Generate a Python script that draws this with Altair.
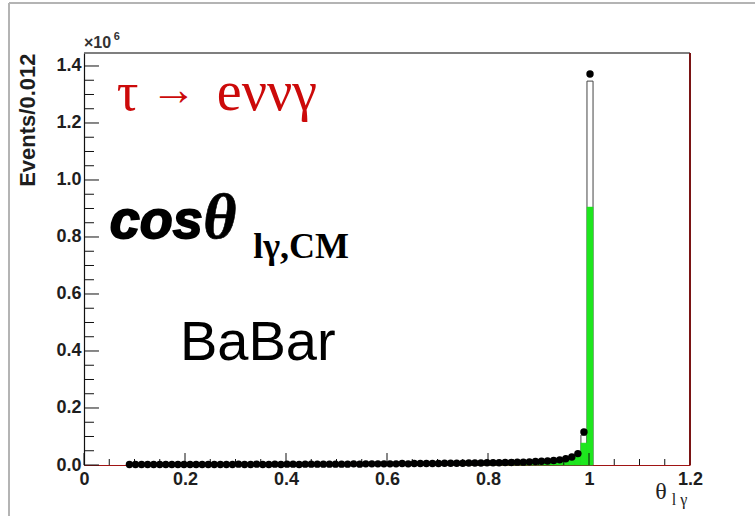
import altair as alt
import pandas as pd

# ---------------- data (values in units of 10^6 events per 0.012 bin) ----------------
BIN_W = 0.012
FIRST_BIN = 7  # first filled bin starts at 7*0.012 = 0.084

data_vals = [
    0.002, 0.002, 0.002, 0.002, 0.002, 0.002, 0.002, 0.002, 0.002, 0.002,
    0.002, 0.002, 0.002, 0.002, 0.002, 0.002, 0.002, 0.002, 0.003, 0.002,
    0.002, 0.003, 0.002, 0.002, 0.003, 0.002, 0.003, 0.003, 0.002, 0.003,
    0.003, 0.003, 0.003, 0.003, 0.003, 0.003, 0.003, 0.004, 0.003, 0.004,
    0.004, 0.004, 0.004, 0.004, 0.004, 0.005, 0.004, 0.005, 0.005, 0.005,
    0.005, 0.005, 0.006, 0.006, 0.006, 0.006, 0.007, 0.007, 0.007, 0.008,
    0.008, 0.008, 0.009, 0.009, 0.010, 0.010, 0.011, 0.012, 0.013, 0.014,
    0.016, 0.018, 0.022, 0.028, 0.040, 0.116, 1.372,
]
mc_total = [
    0.002, 0.002, 0.002, 0.002, 0.002, 0.002, 0.002, 0.002, 0.002, 0.002,
    0.002, 0.002, 0.002, 0.002, 0.002, 0.002, 0.002, 0.002, 0.002, 0.002,
    0.002, 0.002, 0.002, 0.002, 0.002, 0.002, 0.003, 0.003, 0.003, 0.003,
    0.003, 0.003, 0.003, 0.003, 0.003, 0.003, 0.003, 0.003, 0.004, 0.004,
    0.004, 0.004, 0.004, 0.004, 0.004, 0.004, 0.005, 0.005, 0.005, 0.005,
    0.005, 0.005, 0.006, 0.006, 0.006, 0.006, 0.007, 0.007, 0.007, 0.007,
    0.008, 0.008, 0.008, 0.009, 0.009, 0.010, 0.011, 0.011, 0.012, 0.014,
    0.015, 0.017, 0.021, 0.027, 0.038, 0.105, 1.347,
]
mc_signal = [
    0.001, 0.001, 0.001, 0.001, 0.001, 0.001, 0.001, 0.001, 0.001, 0.001,
    0.001, 0.001, 0.001, 0.001, 0.001, 0.001, 0.001, 0.001, 0.001, 0.001,
    0.001, 0.001, 0.001, 0.001, 0.001, 0.001, 0.002, 0.002, 0.002, 0.002,
    0.002, 0.002, 0.002, 0.002, 0.002, 0.002, 0.002, 0.002, 0.003, 0.003,
    0.003, 0.003, 0.003, 0.003, 0.003, 0.003, 0.003, 0.003, 0.004, 0.004,
    0.004, 0.004, 0.004, 0.004, 0.004, 0.005, 0.005, 0.005, 0.005, 0.005,
    0.006, 0.006, 0.006, 0.007, 0.007, 0.008, 0.008, 0.009, 0.010, 0.011,
    0.012, 0.014, 0.017, 0.022, 0.033, 0.077, 0.905,
]

x_tick_values = [0, 0.2, 0.4, 0.6, 0.8, 1, 1.2]
y_tick_values = [0.0, 0.2, 0.4, 0.6, 0.8, 1.0, 1.2, 1.4]
x_minor_values = [round(0.05 * i, 2) for i in range(25)]
y_minor_values = [round(0.05 * i, 2) for i in range(29)]

X_MAX = 1.2
Y_MAX = 1.4456

# ---------------- tables ----------------
n = len(data_vals)
lo = [round(BIN_W * (FIRST_BIN + i), 4) for i in range(n)]
hist = pd.DataFrame({
    "lo": lo,
    "hi": [round(v + BIN_W, 4) for v in lo],
    "mid": [round(v + BIN_W / 2, 4) for v in lo],
    "data": data_vals,
    "mc": mc_total,
    "sig": mc_signal,
})

XS = alt.Scale(domain=[0, X_MAX], nice=False, zero=False)
YS = alt.Scale(domain=[0, Y_MAX], nice=False, zero=False)

x_axis = alt.Axis(
    values=x_tick_values,
    labelExpr="datum.value == 0 ? '0' : datum.value == 1 ? '1' : format(datum.value, '.1f')",
    ticks=False, grid=False, title="",
    domainColor="#a01414", domainWidth=1.2,
    labelFont="Liberation Sans", labelFontWeight="bold", labelFontSize=18,
    labelColor="#1e1e1e", labelPadding=5, labelFlush=False,
)
y_axis = alt.Axis(
    values=y_tick_values, format=".1f",
    ticks=False, grid=False,
    domainColor="#111111", domainWidth=1.2,
    labelFont="Liberation Sans", labelFontWeight="bold", labelFontSize=18,
    labelColor="#1e1e1e", labelPadding=3, labelFlush=False,
    title="Events/0.012", titleFont="Liberation Sans", titleFontWeight="bold",
    titleFontSize=22, titleColor="#1e1e1e", titleAnchor="end", titlePadding=16,
)


def X(field):
    return alt.X(field, scale=XS, axis=x_axis)


def Y(field):
    return alt.Y(field, scale=YS, axis=y_axis)


base = alt.Chart(hist)

mc_layer = base.mark_rect(fill="white", stroke="#444444", strokeWidth=1).encode(
    x=X("lo:Q"), x2="hi:Q", y=Y("mc:Q"), y2=alt.datum(0),
)
sig_layer = base.mark_rect(fill="#1ee61e", stroke="#1ee61e", strokeWidth=0.5).encode(
    x=X("lo:Q"), x2="hi:Q", y=Y("sig:Q"), y2=alt.datum(0),
)
dots = base.mark_circle(color="black", opacity=1, size=55).encode(
    x=X("mid:Q"), y=Y("data:Q"),
)

# ---------------- inner ticks (ROOT style) ----------------
ytick_rows = [{"x0": 0, "x1": 0.0297 if round(v / 0.2, 6) == round(v / 0.2) else 0.0198, "v": v}
              for v in y_minor_values]
xtick_rows = [{"y0": 0, "y1": 0.042 if round(v / 0.2, 6) == round(v / 0.2) else 0.021, "v": v}
              for v in x_minor_values]
yticks = alt.Chart(pd.DataFrame(ytick_rows)).mark_rule(color="#111111", strokeWidth=1).encode(
    x=X("x0:Q"), x2="x1:Q", y=Y("v:Q"),
)
xticks = alt.Chart(pd.DataFrame(xtick_rows)).mark_rule(color="#111111", strokeWidth=1).encode(
    x=X("v:Q"), y=Y("y0:Q"), y2="y1:Q",
)

# ---------------- frame ----------------
top_frame = alt.Chart(pd.DataFrame({"x0": [0], "x1": [X_MAX], "y": [Y_MAX]})).mark_rule(
    color="#555555", strokeWidth=1.5).encode(
    x=X("x0:Q"), x2="x1:Q", y=Y("y:Q"),
)
right_frame = alt.Chart(pd.DataFrame({"x": [X_MAX], "y0": [0], "y1": [Y_MAX]})).mark_rule(
    color="#7a1414", strokeWidth=2).encode(
    x=X("x:Q"), y=Y("y0:Q"), y2="y1:Q",
)
# outer (canvas) border, partly visible at the left and top
outer_left = alt.Chart(pd.DataFrame({"a": [0]})).mark_rule(color="#b4b4b4", strokeWidth=2).encode(
    x=alt.value(-75), y=alt.value(-50), y2=alt.value(470))
outer_top = alt.Chart(pd.DataFrame({"a": [0]})).mark_rule(color="#b4b4b4", strokeWidth=2).encode(
    x=alt.value(-75), x2=alt.value(680), y=alt.value(-50))


# ---------------- annotations ----------------
def label(text, x, y, size, font="Liberation Sans", weight="normal", style="normal",
          color="black", align="left", baseline="alphabetic", stroke_w=0.0):
    df = pd.DataFrame({"x": [x], "y": [y], "t": [text]})
    kw = dict(font=font, fontSize=size, fontWeight=weight, fontStyle=style,
              color=color, align=align, baseline=baseline)
    if stroke_w > 0:
        kw.update(stroke=color, strokeWidth=stroke_w)
    return alt.Chart(df).mark_text(**kw).encode(
        x=X("x:Q"), y=Y("y:Q"), text="t:N",
    )


RED = "#cc0a0a"
texts = [
    label("τ", 0.065, 1.246, 54, font="Liberation Serif", color=RED),
    label("→", 0.132, 1.262, 46, font="Liberation Serif", color=RED),
    label("eννγ", 0.263, 1.246, 56, font="Liberation Serif", color=RED),
    label("cos", 0.051, 0.796, 54, weight="bold", style="italic", stroke_w=1.8),
    label("θ", 0.236, 0.796, 64, font="Liberation Serif", weight="bold", style="italic", stroke_w=0.6),
    label("lγ,CM", 0.335, 0.726, 36, font="Liberation Serif", weight="bold"),
    label("BaBar", 0.190, 0.368, 56),
    label("×10", 0.0, 1.463, 16, weight="bold", color="#333333"),
    label("6", 0.059, 1.49, 11, weight="bold", color="#333333"),
    label("θ", 1.131, -0.118, 24, font="Liberation Serif", color="#222222"),
    label("l γ", 1.164, -0.14, 16, font="Liberation Serif", color="#222222"),
]

chart = alt.layer(
    mc_layer, sig_layer, yticks, xticks, top_frame, right_frame, dots,
    *texts, outer_left, outer_top,
).properties(
    width=606, height=412,
    autosize=alt.AutoSizeParams(type="none"),
    padding={"left": 84, "top": 53, "right": 65, "bottom": 51},
    background="white",
).configure_view(stroke=None)

chart.save("out.html", embed_options={"renderer": "svg", "actions": False})
